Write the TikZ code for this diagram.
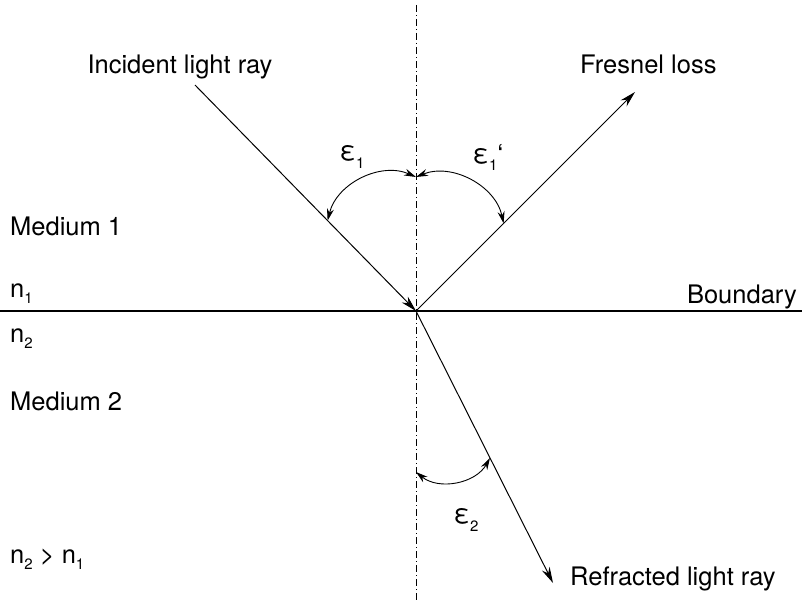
\documentclass[tikz,border=0pt]{standalone}
\usepackage{fontspec}
\setmainfont{TeX Gyre Heros}
\usetikzlibrary{calc, arrows.meta}
\newcommand{\lowidx}[1]{\raisebox{-0.5ex}{\fontsize{15}{15}\selectfont #1}}

\begin{document}
\begin{tikzpicture}[x=1pt, y=-1pt, font=\fontsize{25.5}{30}\selectfont,
    ray/.style={line width=1pt, -{Stealth[length=16pt, width=8.5pt]}},
    ang/.style={line width=0.9pt, {Stealth[length=12pt, width=7pt]}-{Stealth[length=12pt, width=7pt]}, bend angle=50},
    txt/.style={inner sep=0pt, anchor=base west}]
  \useasboundingbox (0,0) rectangle (802,602);
  % normal and boundary
  \coordinate (O) at (416,311);
  \coordinate (nTop) at (416,5);
  \coordinate (nBot) at (416,600);
  \coordinate (bL) at (0,311);
  \coordinate (bR) at (802,311);
  \draw[line width=0.7pt, dash pattern=on 7pt off 3pt on 1pt off 3pt] (nTop) -- (nBot);
  \draw[line width=1.5pt] (bL) -- (bR);
  % rays
  \coordinate (inc) at (195,85);
  \coordinate (refl) at (635,92);
  \coordinate (refr) at (553,583);
  \draw[ray] (inc) -- (O);
  \draw[ray] (O) -- (refl);
  \draw[ray] (O) -- (refr);
  % angles
  \coordinate (a0) at (416,177);
  \coordinate (a1) at ($(O)!0.4!(inc)$);
  \coordinate (a2) at ($(O)!0.4!(refl)$);
  \coordinate (b1) at (416,472);
  \coordinate (b2) at ($(O)!0.54!(refr)$);
  \draw[ang] (a1) to[bend left] (a0);
  \draw[ang] (a2) to[bend right] (a0);
  \draw[ang] (b1) to[bend right] (b2);
  \node[font=\fontsize{27}{30}\selectfont] (e1)  at (352,157) {ε\lowidx{1}};
  \node[font=\fontsize{27}{30}\selectfont] (e1r) at (488,157) {ε\lowidx{1}‘};
  \node[font=\fontsize{27}{30}\selectfont] (e2)  at (466,520) {ε\lowidx{2}};
  % texts
  \node[inner sep=0pt, anchor=base] (incTxt) at (180,73) {Incident light ray};
  \node[inner sep=0pt, anchor=base west] (fresTxt) at (580,73) {Fresnel loss};
  \node[txt] (med1) at (10,235) {Medium 1};
  \node[txt] (n1) at (10,297) {n\lowidx{1}};
  \node[txt, anchor=base east] (bnd) at (797,303) {Boundary};
  \node[txt] (n2) at (10,342) {n\lowidx{2}};
  \node[txt] (med2) at (10,410) {Medium 2};
  \node[txt] (ineq) at (10,563) {n\lowidx{2} > n\lowidx{1}};
  \node[txt] (refrTxt) at (570,585) {Refracted light ray};
\end{tikzpicture}
\end{document}
